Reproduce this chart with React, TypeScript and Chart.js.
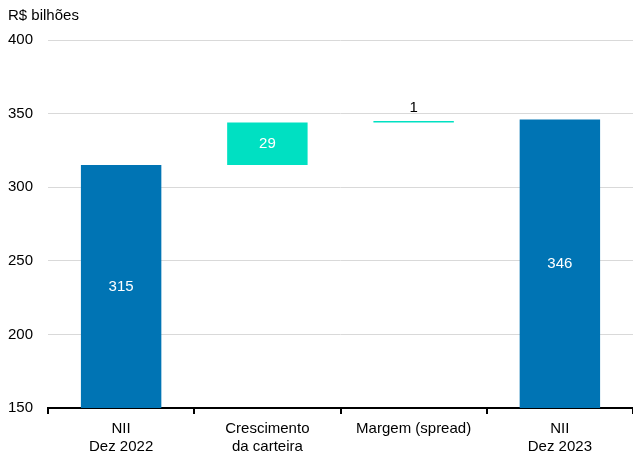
import React, { useEffect, useRef } from "react";
import { Chart, registerables } from "chart.js";

Chart.register(...registerables);

const categories: string[][] = [["NII", "Dez 2022"], ["Crescimento", "da carteira"], ["Margem (spread)"], ["NII", "Dez 2023"]];
const lows = [150, 315, 344, 150];
const highs = [315, 344, 345, 346];
const valueLabels = ["315", "29", "1", "346"];
const colors = ["#0074B4", "#00E0C2", "#00E0C2", "#0074B4"];
const labelInside = [true, true, false, true];
const unitTitle = "R$ bilhões";

const FONT = "'Liberation Sans', Arial, sans-serif";

const labelsPlugin = {
  id: "wfLabels",
  afterDatasetsDraw(chart: any) {
    const ctx = chart.ctx;
    const meta = chart.getDatasetMeta(0);
    ctx.save();
    ctx.font = `15px ${FONT}`;
    ctx.textAlign = "center";
    meta.data.forEach((bar: any, i: number) => {
      const y = chart.scales.y;
      const top = y.getPixelForValue(highs[i]);
      const bot = y.getPixelForValue(lows[i]);
      if (labelInside[i]) {
        ctx.fillStyle = "#ffffff";
        ctx.textBaseline = "middle";
        ctx.fillText(valueLabels[i], bar.x, (top + bot) / 2);
      } else {
        ctx.fillStyle = "#000000";
        ctx.textBaseline = "bottom";
        ctx.fillText(valueLabels[i], bar.x, top - 6);
      }
    });
    ctx.fillStyle = "#000000";
    ctx.textAlign = "left";
    ctx.textBaseline = "middle";
    ctx.fillText(unitTitle, 8, 16);
    ctx.restore();
  },
};

export default function App() {
  const ref = useRef<HTMLCanvasElement>(null);
  useEffect(() => {
    const chart = new Chart(ref.current!, {
      type: "bar",
      data: {
        labels: categories as any,
        datasets: [
          {
            data: lows.map((l, i) => [l, highs[i]]) as any,
            backgroundColor: colors,
            borderWidth: 0,
            borderSkipped: false,
            categoryPercentage: 1,
            barPercentage: 0.55,
          },
        ],
      },
      options: {
        animation: false,
        responsive: false,
        maintainAspectRatio: false,
        layout: { padding: { top: 40, right: 0, bottom: 2, left: 2 } },
        plugins: { legend: { display: false }, tooltip: { enabled: false } },
        scales: {
          x: {
            offset: true,
            border: { display: true, color: "#000000", width: 2 },
            grid: { display: true, drawOnChartArea: false, drawTicks: true, tickLength: 6, color: "#000000", offset: true, lineWidth: 2 },
            ticks: { color: "#000000", font: { family: FONT, size: 15, lineHeight: 1.2 }, padding: 6, maxRotation: 0 },
            afterFit: (s: any) => {
              s.height = 45;
            },
          },
          y: {
            min: 150,
            max: 400,
            border: { display: false },
            grid: { color: "#d9d9d9", drawTicks: false },
            ticks: { stepSize: 50, color: "#000000", font: { family: FONT, size: 15 }, padding: 15 },
            afterFit: (s: any) => {
              s.width = 46;
            },
          },
        },
      },
      plugins: [labelsPlugin],
    });
    return () => chart.destroy();
  }, []);
  return (
    <div style={{ position: "fixed", left: 0, top: 0, width: 633, height: 455, background: "#fff" }}>
      <canvas ref={ref} width={633} height={455} />
    </div>
  );
}
